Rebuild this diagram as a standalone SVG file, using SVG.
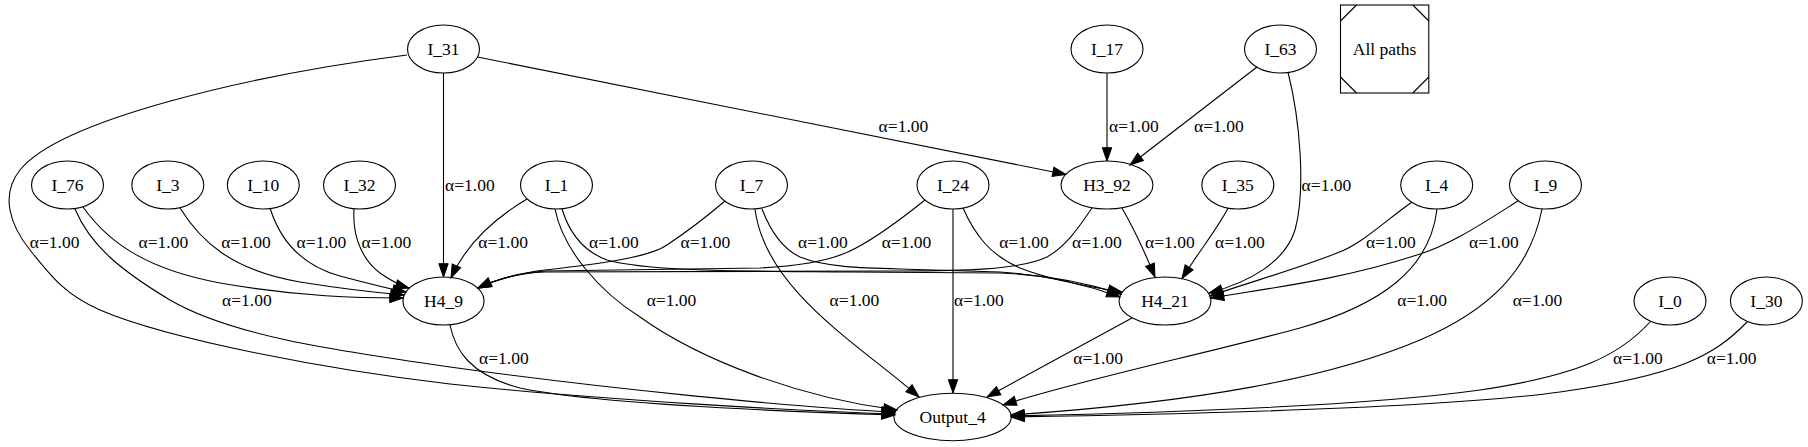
<svg xmlns="http://www.w3.org/2000/svg" width="1808" height="447" viewBox="0 0 1808 447" font-family="Liberation Serif" font-size="17.5">
<defs>
<marker id="ah" markerUnits="userSpaceOnUse" markerWidth="14" markerHeight="10" refX="13.3" refY="4.7" orient="auto" overflow="visible">
<path d="M0,0 L13.3,4.7 L0,9.4 Z" fill="#000" stroke="#000" stroke-width="1"/>
</marker>
<style>
.n ellipse{fill:none;stroke:#000;stroke-width:1.1}
text{font-family:'Liberation Serif',serif;font-size:17.5px;fill:#000}
.n text{text-anchor:middle}
.e path{fill:none;stroke:#000;stroke-width:1.1;marker-end:url(#ah)}
</style>
</defs>
<rect width="1808" height="447" fill="#fff"/>
<g id="edges">
<g class="e" id="e_I31_Out"><path d="M407,55 C250,75 60,120 20,170 C0,195 10,225 30,250 C50,275 65,295 100,310 C170,340 330,370 450,384 C600,400 800,411 895,414"/><text x="29.8" y="248.3">α=1.00</text></g>
<g class="e" id="e_I31_H49"><path d="M443.5,73 L443.5,277"/><text x="445" y="190.5">α=1.00</text></g>
<g class="e" id="e_I31_H392"><path d="M477.5,57 L1066,174.5"/><text x="878.6" y="132">α=1.00</text></g>
<g class="e" id="e_I17_H392"><path d="M1107,73 L1107,161"/><text x="1109" y="132">α=1.00</text></g>
<g class="e" id="e_I63_H392"><path d="M1257,67 L1130,165"/><text x="1194" y="132">α=1.00</text></g>
<g class="e" id="e_I63_H421"><path d="M1288,72 C1300,120 1306,190 1295,230 C1285,262 1250,282 1209,293"/><text x="1301.6" y="190.5">α=1.00</text></g>
<g class="e" id="e_I76_H49"><path d="M83,207 C110,245 150,270 220,283 C300,297 360,298 403,298"/><text x="138.5" y="248.3">α=1.00</text></g>
<g class="e" id="e_I76_Out"><path d="M75,209 C90,245 120,270 170,300 C230,335 330,350 450,367 C600,388 800,408 895,412"/><text x="222" y="306">α=1.00</text></g>
<g class="e" id="e_I3_H49"><path d="M180,208 C200,240 230,270 300,282 C350,290 380,293 404,295"/><text x="221.2" y="248.3">α=1.00</text></g>
<g class="e" id="e_I10_H49"><path d="M270,208 C280,240 300,265 340,276 C370,284 390,289 406,292"/><text x="296.6" y="248.3">α=1.00</text></g>
<g class="e" id="e_I32_H49"><path d="M354,209 C352,240 365,262 380,273 C390,280 398,285 409,288"/><text x="361.6" y="248.3">α=1.00</text></g>
<g class="e" id="e_I1_H49"><path d="M527,199 C500,215 468,240 451,278"/><text x="478.3" y="248.3">α=1.00</text></g>
<g class="e" id="e_I1_H421"><path d="M562,209 C570,235 585,252 607,260 C650,272 750,271 850,272 L1000,273 C1050,275 1090,284 1121,294"/><text x="589" y="248.3">α=1.00</text></g>
<g class="e" id="e_I1_Out"><path d="M555,209 C563,250 600,292 640,317 C700,360 800,398 897,410"/><text x="646.7" y="306">α=1.00</text></g>
<g class="e" id="e_I7_H49"><path d="M725,201 C705,218 682,235 667,245 C650,257 600,264 545,270 C520,273 495,280 478,288"/><text x="680.5" y="248.3">α=1.00</text></g>
<g class="e" id="e_I7_H421"><path d="M762,209 C772,235 785,250 800,257 C825,267 860,268 900,269 L1000,272 C1050,275 1090,286 1120,297"/><text x="798" y="248.3">α=1.00</text></g>
<g class="e" id="e_I7_Out"><path d="M755,209 C765,290 860,345 919,397"/><text x="829.6" y="306">α=1.00</text></g>
<g class="e" id="e_I24_H49"><path d="M925,200 C900,220 875,238 856,248 C835,260 800,266 760,268 L545,271 C520,273 495,280 478,288"/><text x="881.7" y="248.3">α=1.00</text></g>
<g class="e" id="e_I24_H421"><path d="M963,208 C975,235 990,255 1020,268 C1050,280 1090,287 1122,292"/><text x="999.2" y="248.3">α=1.00</text></g>
<g class="e" id="e_I24_Out"><path d="M953,209 L953,393"/><text x="954" y="306">α=1.00</text></g>
<g class="e" id="e_H392_H49"><path d="M1092,208 C1080,225 1068,245 1047,257 C1020,270 960,271 900,271 L545,272 C520,273 495,280 478,288"/><text x="1072" y="248.3">α=1.00</text></g>
<g class="e" id="e_H392_H421"><path d="M1122,208 C1130,222 1142,245 1155,277"/><text x="1145" y="248.3">α=1.00</text></g>
<g class="e" id="e_I35_H421"><path d="M1228,208 C1220,225 1200,250 1182,278.5"/><text x="1215" y="248.3">α=1.00</text></g>
<g class="e" id="e_I4_H421"><path d="M1412,202 C1380,225 1360,245 1337,253 C1300,268 1250,282 1210,296"/><text x="1366" y="248.3">α=1.00</text></g>
<g class="e" id="e_I4_Out"><path d="M1437,209 C1430,270 1380,305 1300,328 C1200,355 1080,380 1003,405"/><text x="1397.3" y="306">α=1.00</text></g>
<g class="e" id="e_I9_H421"><path d="M1518,201 C1480,225 1450,245 1417,255 C1340,280 1270,288 1210.5,298"/><text x="1469" y="248.3">α=1.00</text></g>
<g class="e" id="e_I9_Out"><path d="M1542,209 C1530,270 1490,310 1420,340 C1330,378 1200,402 1011,415"/><text x="1512.7" y="306">α=1.00</text></g>
<g class="e" id="e_H49_Out"><path d="M450,325 C455,350 470,375 520,388 C600,405 800,412 895,415"/><text x="479" y="364">α=1.00</text></g>
<g class="e" id="e_H421_Out"><path d="M1132,318 L987,397"/><text x="1073.3" y="364">α=1.00</text></g>
<g class="e" id="e_I0_Out"><path d="M1650,322 C1620,355 1580,375 1480,390 C1380,404 1200,412 1011,416"/><text x="1613" y="364">α=1.00</text></g>
<g class="e" id="e_I30_Out"><path d="M1747,322 C1715,355 1680,375 1560,392 C1450,407 1200,414 1011,417"/><text x="1706.8" y="364">α=1.00</text></g>
</g>
<g class="n" id="I_31"><ellipse cx="443.5" cy="49" rx="36" ry="24"/><text x="443.5" y="54.5">I_31</text></g>
<g class="n" id="I_17"><ellipse cx="1107" cy="49" rx="36" ry="24"/><text x="1107" y="54.5">I_17</text></g>
<g class="n" id="I_63"><ellipse cx="1280.5" cy="49" rx="36" ry="24"/><text x="1280.5" y="54.5">I_63</text></g>
<g class="n" id="legend"><rect x="1340.5" y="5" width="88.3" height="88" fill="none" stroke="#000" stroke-width="1.1"/><path d="M1340.5,21 L1356.5,5 M1412.8,5 L1428.8,21 M1340.5,77 L1356.5,93 M1412.8,93 L1428.8,77" fill="none" stroke="#000" stroke-width="1.1"/><text x="1384.6" y="54.5">All paths</text></g>
<g class="n" id="I_76"><ellipse cx="67.5" cy="185" rx="36" ry="24"/><text x="67.5" y="190.5">I_76</text></g>
<g class="n" id="I_3"><ellipse cx="167.8" cy="185" rx="36" ry="24"/><text x="167.8" y="190.5">I_3</text></g>
<g class="n" id="I_10"><ellipse cx="263.3" cy="185" rx="36" ry="24"/><text x="263.3" y="190.5">I_10</text></g>
<g class="n" id="I_32"><ellipse cx="359.5" cy="185" rx="36" ry="24"/><text x="359.5" y="190.5">I_32</text></g>
<g class="n" id="I_1"><ellipse cx="556.5" cy="185" rx="36" ry="24"/><text x="556.5" y="190.5">I_1</text></g>
<g class="n" id="I_7"><ellipse cx="751.5" cy="185" rx="36" ry="24"/><text x="751.5" y="190.5">I_7</text></g>
<g class="n" id="I_24"><ellipse cx="953" cy="185" rx="36" ry="24"/><text x="953" y="190.5">I_24</text></g>
<g class="n" id="H3_92"><ellipse cx="1107" cy="185" rx="46" ry="24"/><text x="1107" y="190.5">H3_92</text></g>
<g class="n" id="I_35"><ellipse cx="1237.8" cy="185" rx="36" ry="24"/><text x="1237.8" y="190.5">I_35</text></g>
<g class="n" id="I_4"><ellipse cx="1436.7" cy="185" rx="36" ry="24"/><text x="1436.7" y="190.5">I_4</text></g>
<g class="n" id="I_9"><ellipse cx="1545.5" cy="185" rx="36" ry="24"/><text x="1545.5" y="190.5">I_9</text></g>
<g class="n" id="H4_9"><ellipse cx="443.5" cy="301" rx="40.6" ry="24"/><text x="443.5" y="306.5">H4_9</text></g>
<g class="n" id="H4_21"><ellipse cx="1165" cy="301" rx="46" ry="24"/><text x="1165" y="306.5">H4_21</text></g>
<g class="n" id="I_0"><ellipse cx="1670" cy="301" rx="36" ry="24"/><text x="1670" y="306.5">I_0</text></g>
<g class="n" id="I_30"><ellipse cx="1766.4" cy="301" rx="36" ry="24"/><text x="1766.4" y="306.5">I_30</text></g>
<g class="n" id="Output_4"><ellipse cx="952.6" cy="417" rx="58.7" ry="23.7"/><text x="952.6" y="422.5">Output_4</text></g>
</svg>
